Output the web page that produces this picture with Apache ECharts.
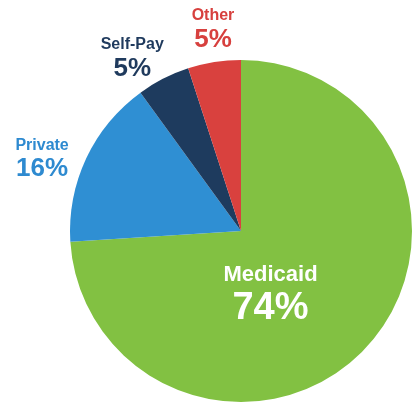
<!DOCTYPE html>
<html>
<head>
<meta charset="utf-8">
<style>
  html, body { margin: 0; padding: 0; background: #ffffff; }
  #chart { width: 413px; height: 405px; }
</style>
<script src="https://cdn.jsdelivr.net/npm/echarts@6/dist/echarts.min.js"></script>
</head>
<body>
<div id="chart"></div>
<script>
// Payer mix, share of total (%)
const categories = ['Medicaid', 'Private', 'Self-Pay', 'Other'];
const shares = [74, 16, 5, 5];
const sliceColors = ['#82c142', '#2f8fd3', '#1e3b5e', '#d9413e'];
const labelColors = ['#ffffff', '#2e8ad0', '#1f3a5d', '#d7403e'];

// label nudges so each caption sits where it reads best
const outerOffsets = [[0, 0], [-8, 19], [-13, 17], [5, 8]];
const FONT = 'Liberation Sans, Arial, sans-serif';

const chart = echarts.init(document.getElementById('chart'));

const sliceData = categories.map((name, i) => ({
  name,
  value: shares[i],
  itemStyle: { color: sliceColors[i] },
  label: i === 0
    ? {
        show: true,
        position: 'inside',
        offset: [-35, 4],
        formatter: '{n|{b}}\n{p|{c}%}',
        rich: {
          n: { fontFamily: FONT, fontWeight: 'bold', fontSize: 22, lineHeight: 26, color: labelColors[0], align: 'center' },
          p: { fontFamily: FONT, fontWeight: 'bold', fontSize: 38, lineHeight: 42, color: labelColors[0], align: 'center' }
        }
      }
    : { show: false }
}));

// transparent ring that carries the outside captions
const captionData = categories.map((name, i) => ({
  name,
  value: shares[i],
  itemStyle: { color: 'rgba(0,0,0,0)' },
  label: i === 0
    ? { show: false }
    : {
        show: true,
        position: 'inside',
        offset: outerOffsets[i],
        formatter: '{n|{b}}\n{p|{c}%}',
        rich: {
          n: { fontFamily: FONT, fontWeight: 'bold', fontSize: 16, lineHeight: 20, color: labelColors[i], align: 'center' },
          p: { fontFamily: FONT, fontWeight: 'bold', fontSize: 26, lineHeight: 28, color: labelColors[i], align: 'center' }
        }
      }
}));

chart.setOption({
  animation: false,
  series: [
    {
      type: 'pie',
      center: [241, 231],
      radius: [0, 171],
      startAngle: 90,
      clockwise: true,
      avoidLabelOverlap: false,
      labelLine: { show: false },
      emphasis: { disabled: true },
      silent: true,
      data: sliceData
    },
    {
      type: 'pie',
      center: [241, 230],
      radius: [190, 226],
      startAngle: 90,
      clockwise: true,
      avoidLabelOverlap: false,
      labelLine: { show: false },
      emphasis: { disabled: true },
      silent: true,
      data: captionData
    }
  ]
});
</script>
</body>
</html>
